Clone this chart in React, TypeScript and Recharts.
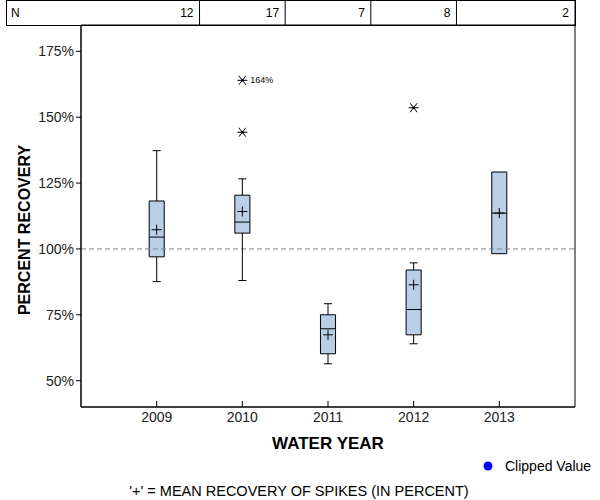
import React from 'react';
import {
  ComposedChart,
  XAxis,
  YAxis,
  ReferenceArea,
  ReferenceLine,
  Scatter,
  Label,
} from 'recharts';

const years = [2009, 2010, 2011, 2012, 2013];
const counts = [12, 17, 7, 8, 2];
const whiskerLow = [87.6, 88, 56.4, 64, null];
const q1 = [97, 106, 60.2, 67.4, 98.2];
const median = [104.5, 110.2, 69.7, 77, 113.6];
const q3 = [118.2, 120.4, 75, 92, 129.2];
const whiskerHigh = [137.3, 126.6, 79.2, 94.7, null];
const means = [107.3, 114.2, 67.4, 86.4, 113.6];

const outlierYears = [2010, 2010, 2012];
const outlierValues = [144.3, 164, 153.6];
const outlierLabels = ['', '164%', ''];

const yTicks = [50, 75, 100, 125, 150, 175];

const FONT = '"Liberation Sans", Arial, sans-serif';
const BOX_FILL = '#b9cfe7';
const X_DOMAIN: [number, number] = [2008.116, 2013.884];
const Y_DOMAIN: [number, number] = [40, 185];
const HALF_BOX = 0.088;
const HALF_CAP = 0.047;

// right edge of each cell in the N row, one per year
const cellEdges = [2009.5, 2010.5, 2011.5, 2012.5, X_DOMAIN[1]];

const meanData = years.map((year, i) => ({ x: year, y: means[i] }));
const outlierData = outlierYears.map((year, i) => ({
  x: year,
  y: outlierValues[i],
  label: outlierLabels[i],
}));
const cellData = cellEdges.map((edge, i) => ({ x: edge, y: 100, n: counts[i] }));

const CountTick = ({ x, y, index }: any) => (
  <g>
    <line x1={x} x2={x} y1={y - 25} y2={y} stroke="#000" />
    <text x={x - 6} y={y - 8} textAnchor="end" fontSize={12} fontFamily={FONT} fill="#000">
      {counts[index]}
    </text>
  </g>
);

const YearTick = ({ x, y, payload }: any) => (
  <g>
    <line x1={x} x2={x} y1={y - 6} y2={y} stroke="#000" />
    <text x={x} y={y + 15} textAnchor="middle" fontSize={14} fontFamily={FONT} fill="#222">
      {payload.value}
    </text>
  </g>
);

const PlusMark = ({ cx, cy }: any) => (
  <g stroke="#000" strokeWidth={1}>
    <line x1={cx - 5} x2={cx + 5} y1={cy} y2={cy} />
    <line x1={cx} x2={cx} y1={cy - 5} y2={cy + 5} />
  </g>
);

const StarMark = ({ cx, cy, payload }: any) => (
  <g>
    <g stroke="#000" strokeWidth={1}>
      <line x1={cx - 5} x2={cx + 5} y1={cy} y2={cy} />
      <line x1={cx - 3.5} x2={cx + 3.5} y1={cy - 4.5} y2={cy + 4.5} />
      <line x1={cx - 3.5} x2={cx + 3.5} y1={cy + 4.5} y2={cy - 4.5} />
    </g>
    <circle cx={cx} cy={cy} r={1.3} fill="#000" />
    {payload.label ? (
      <text x={cx + 8} y={cy + 3} fontSize={9} fontFamily={FONT} fill="#000">
        {payload.label}
      </text>
    ) : null}
  </g>
);

const YTitle = ({ viewBox }: any) => {
  const x = viewBox.x + 24;
  const y = viewBox.y + viewBox.height / 2 + 14;
  return (
    <text
      x={x}
      y={y}
      transform={`rotate(-90 ${x} ${y})`}
      textAnchor="middle"
      dominantBaseline="central"
      fontSize={16}
      fontWeight="bold"
      fontFamily={FONT}
      fill="#000"
    >
      PERCENT RECOVERY
    </text>
  );
};

export default function App() {
  return (
    <div style={{ position: 'absolute', left: 0, top: 0, width: 600, height: 500, background: '#fff', fontFamily: FONT }}>
      <div
        style={{
          position: 'absolute',
          left: 6,
          top: 0,
          width: 570,
          height: 26,
          boxSizing: 'border-box',
          border: '1px solid #000',
        }}
      >
        <span style={{ position: 'absolute', left: 4, top: 5, fontSize: 12, color: '#000' }}>N</span>
      </div>
      <ComposedChart width={600} height={500} margin={{ top: 0, right: 25, bottom: 0, left: 0 }} style={{ position: 'absolute', left: 0, top: 0 }}>
        <XAxis
          xAxisId="top"
          orientation="top"
          type="number"
          dataKey="x"
          domain={X_DOMAIN}
          allowDataOverflow
          ticks={cellEdges}
          interval={0}
          height={25}
          axisLine={false}
          tickLine={false}
          tickSize={0}
          tickMargin={0}
          tick={(p: any) => <CountTick {...p} />}
        />
        <XAxis
          type="number"
          dataKey="x"
          domain={X_DOMAIN}
          allowDataOverflow
          ticks={years}
          interval={0}
          height={93}
          axisLine={{ stroke: '#000' }}
          tickLine={false}
          tickSize={0}
          tickMargin={0}
          tick={(p: any) => <YearTick {...p} />}
        >
          <Label
            value="WATER YEAR"
            position="insideTop"
            offset={30}
            style={{ fontSize: 17, fontWeight: 'bold', fontFamily: FONT, fill: '#000' }}
          />
        </XAxis>
        <YAxis
          type="number"
          dataKey="y"
          domain={Y_DOMAIN}
          allowDataOverflow
          ticks={yTicks}
          interval={0}
          width={81}
          axisLine={{ stroke: '#000' }}
          tickLine={{ stroke: '#000' }}
          tickSize={5}
          tickMargin={2}
          tick={{ fontSize: 14, fontFamily: FONT, fill: '#222' }}
          tickFormatter={(v: number) => `${v}%`}
        >
          <Label content={(p: any) => <YTitle {...p} />} />
        </YAxis>

        <ReferenceArea
          x1={X_DOMAIN[0]}
          x2={X_DOMAIN[1]}
          y1={Y_DOMAIN[0]}
          y2={Y_DOMAIN[1]}
          fill="#fff"
          fillOpacity={0}
          stroke="#000"
          strokeWidth={1}
        />
        <ReferenceLine y={100} stroke="#808080" strokeDasharray="5 3" />

        {years.map((year, i) => (
          <ReferenceArea
            key={`box-${year}`}
            x1={year - HALF_BOX}
            x2={year + HALF_BOX}
            y1={q1[i]}
            y2={q3[i]}
            fill={BOX_FILL}
            fillOpacity={1}
            stroke="#000"
            strokeWidth={1}
          />
        ))}
        {years.map((year, i) => (
          <ReferenceLine
            key={`med-${year}`}
            segment={[{ x: year - HALF_BOX, y: median[i] }, { x: year + HALF_BOX, y: median[i] }]}
            stroke="#000"
          />
        ))}
        {years.map((year, i) =>
          whiskerHigh[i] == null ? null : (
            <React.Fragment key={`wh-${year}`}>
              <ReferenceLine segment={[{ x: year, y: q3[i] }, { x: year, y: whiskerHigh[i] as number }]} stroke="#000" />
              <ReferenceLine
                segment={[{ x: year - HALF_CAP, y: whiskerHigh[i] as number }, { x: year + HALF_CAP, y: whiskerHigh[i] as number }]}
                stroke="#000"
              />
            </React.Fragment>
          )
        )}
        {years.map((year, i) =>
          whiskerLow[i] == null ? null : (
            <React.Fragment key={`wl-${year}`}>
              <ReferenceLine segment={[{ x: year, y: q1[i] }, { x: year, y: whiskerLow[i] as number }]} stroke="#000" />
              <ReferenceLine
                segment={[{ x: year - HALF_CAP, y: whiskerLow[i] as number }, { x: year + HALF_CAP, y: whiskerLow[i] as number }]}
                stroke="#000"
              />
            </React.Fragment>
          )
        )}

        <Scatter xAxisId="top" data={cellData} dataKey="y" shape={() => <g />} isAnimationActive={false} />
        <Scatter data={meanData} dataKey="y" shape={(p: any) => <PlusMark {...p} />} isAnimationActive={false} />
        <Scatter data={outlierData} dataKey="y" shape={(p: any) => <StarMark {...p} />} isAnimationActive={false} />
      </ComposedChart>

      <div style={{ position: 'absolute', left: 483, top: 458, display: 'flex', alignItems: 'center', fontSize: 14, color: '#000' }}>
        <svg width={12} height={12} style={{ marginRight: 10 }}>
          <circle cx={5} cy={6} r={4.5} fill="#0000ff" />
        </svg>
        <span>Clipped Value</span>
      </div>
      <div style={{ position: 'absolute', left: 0, width: 598, top: 483, textAlign: 'center', fontSize: 14.5, color: '#000' }}>
        '+' = MEAN RECOVERY OF SPIKES (IN PERCENT)
      </div>
    </div>
  );
}
